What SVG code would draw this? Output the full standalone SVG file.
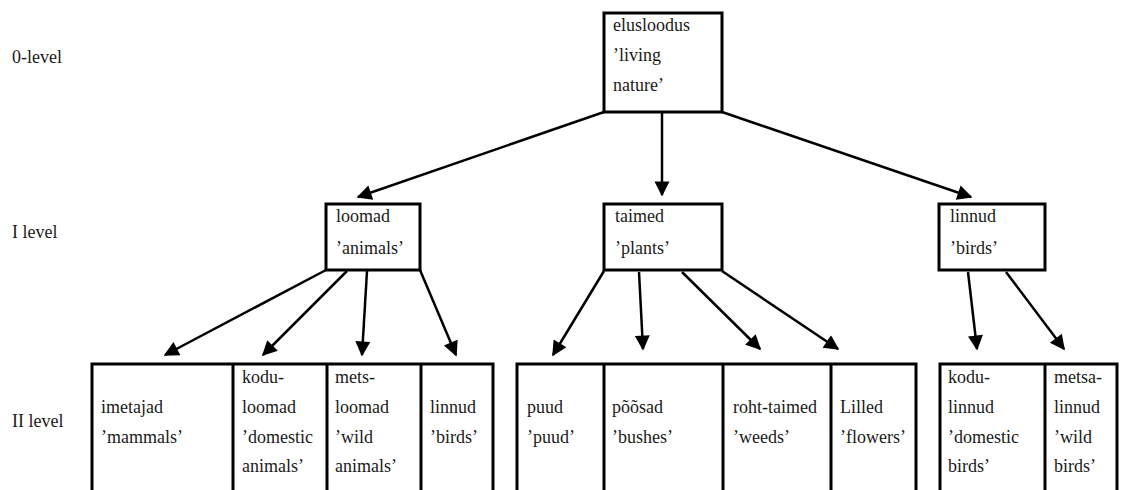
<svg xmlns="http://www.w3.org/2000/svg" width="1128" height="490" viewBox="0 0 1128 490">
  <style>
    .box { fill: #ffffff; stroke: #000000; stroke-width: 3; }
    .div { stroke: #000000; stroke-width: 3; fill: none; }
    .t { font-family: "Liberation Serif", "Times New Roman", serif; font-size: 18px; fill: #1a1a1a; }
    .arrow { stroke: #000000; stroke-width: 2.5; fill: none; marker-end: url(#head); }
  </style>
  <defs>
    <marker id="head" viewBox="0 0 10 10" refX="9" refY="5" markerUnits="userSpaceOnUse" markerWidth="18" markerHeight="15" orient="auto">
      <path d="M0,0 L10,5 L0,10 z" fill="#000000"/>
    </marker>
  </defs>
  <rect width="1128" height="490" fill="#ffffff"/>

  <!-- level labels -->
  <g id="levels">
    <text class="t" x="12" y="63">0-level</text>
    <text class="t" x="12" y="238">I level</text>
    <text class="t" x="12" y="427">II level</text>
  </g>

  <!-- connectors -->
  <g id="connectors">
    <line class="arrow" x1="604" y1="112" x2="358" y2="197"/>
    <line class="arrow" x1="662" y1="112" x2="662" y2="195"/>
    <line class="arrow" x1="722" y1="112" x2="971" y2="197"/>

    <line class="arrow" x1="326" y1="270" x2="165" y2="355"/>
    <line class="arrow" x1="347" y1="271" x2="263" y2="355"/>
    <line class="arrow" x1="367" y1="271" x2="362" y2="355"/>
    <line class="arrow" x1="420" y1="270" x2="456" y2="355"/>

    <line class="arrow" x1="604" y1="271" x2="553" y2="355"/>
    <line class="arrow" x1="639" y1="272" x2="643" y2="349"/>
    <line class="arrow" x1="682" y1="272" x2="760" y2="349"/>
    <line class="arrow" x1="722" y1="271" x2="838" y2="349"/>

    <line class="arrow" x1="968" y1="272" x2="977" y2="349"/>
    <line class="arrow" x1="1006" y1="272" x2="1064" y2="349"/>
  </g>

  <!-- 0 level -->
  <g id="elusloodus">
    <rect class="box" x="604" y="13" width="118" height="99"/>
    <text class="t" x="613" y="31">elusloodus</text>
    <text class="t" x="613" y="61">’living</text>
    <text class="t" x="613" y="91">nature’</text>
  </g>

  <!-- I level -->
  <g id="loomad">
    <rect class="box" x="326" y="204" width="94" height="66"/>
    <text class="t" x="336" y="222">loomad</text>
    <text class="t" x="336" y="254">’animals’</text>
  </g>
  <g id="taimed">
    <rect class="box" x="604" y="204" width="118" height="66"/>
    <text class="t" x="615" y="222">taimed</text>
    <text class="t" x="615" y="254">’plants’</text>
  </g>
  <g id="linnud">
    <rect class="box" x="939" y="204" width="106" height="66"/>
    <text class="t" x="950" y="222">linnud</text>
    <text class="t" x="950" y="254">’birds’</text>
  </g>

  <!-- II level: animals -->
  <g id="animals-row">
    <path class="div" d="M92,492 V364 H493 V492 M233,364 V492 M327,364 V492 M421,364 V492"/>
    <g id="imetajad">
      <text class="t" x="101" y="413">imetajad</text>
      <text class="t" x="101" y="443">’mammals’</text>
    </g>
    <g id="koduloomad">
      <text class="t" x="242" y="383">kodu-</text>
      <text class="t" x="242" y="413">loomad</text>
      <text class="t" x="242" y="443">’domestic</text>
      <text class="t" x="242" y="472">animals’</text>
    </g>
    <g id="metsloomad">
      <text class="t" x="335" y="383">mets-</text>
      <text class="t" x="335" y="413">loomad</text>
      <text class="t" x="335" y="443">’wild</text>
      <text class="t" x="335" y="472">animals’</text>
    </g>
    <g id="linnud-animals">
      <text class="t" x="430" y="413">linnud</text>
      <text class="t" x="430" y="443">’birds’</text>
    </g>
  </g>

  <!-- II level: plants -->
  <g id="plants-row">
    <path class="div" d="M517,492 V364 H916 V492 M604,364 V492 M723,364 V492 M831,364 V492"/>
    <g id="puud">
      <text class="t" x="527" y="413">puud</text>
      <text class="t" x="527" y="443">’puud’</text>
    </g>
    <g id="poosad">
      <text class="t" x="612" y="413">põõsad</text>
      <text class="t" x="612" y="443">’bushes’</text>
    </g>
    <g id="rohttaimed">
      <text class="t" x="733" y="413">roht-taimed</text>
      <text class="t" x="733" y="443">’weeds’</text>
    </g>
    <g id="lilled">
      <text class="t" x="840" y="413">Lilled</text>
      <text class="t" x="840" y="443">’flowers’</text>
    </g>
  </g>

  <!-- II level: birds -->
  <g id="birds-row">
    <path class="div" d="M940,492 V364 H1117 V492 M1045,364 V492"/>
    <g id="kodulinnud">
      <text class="t" x="948" y="383">kodu-</text>
      <text class="t" x="948" y="413">linnud</text>
      <text class="t" x="948" y="443">’domestic</text>
      <text class="t" x="948" y="472">birds’</text>
    </g>
    <g id="metsalinnud">
      <text class="t" x="1054" y="383">metsa-</text>
      <text class="t" x="1054" y="413">linnud</text>
      <text class="t" x="1054" y="443">’wild</text>
      <text class="t" x="1054" y="472">birds’</text>
    </g>
  </g>
</svg>
